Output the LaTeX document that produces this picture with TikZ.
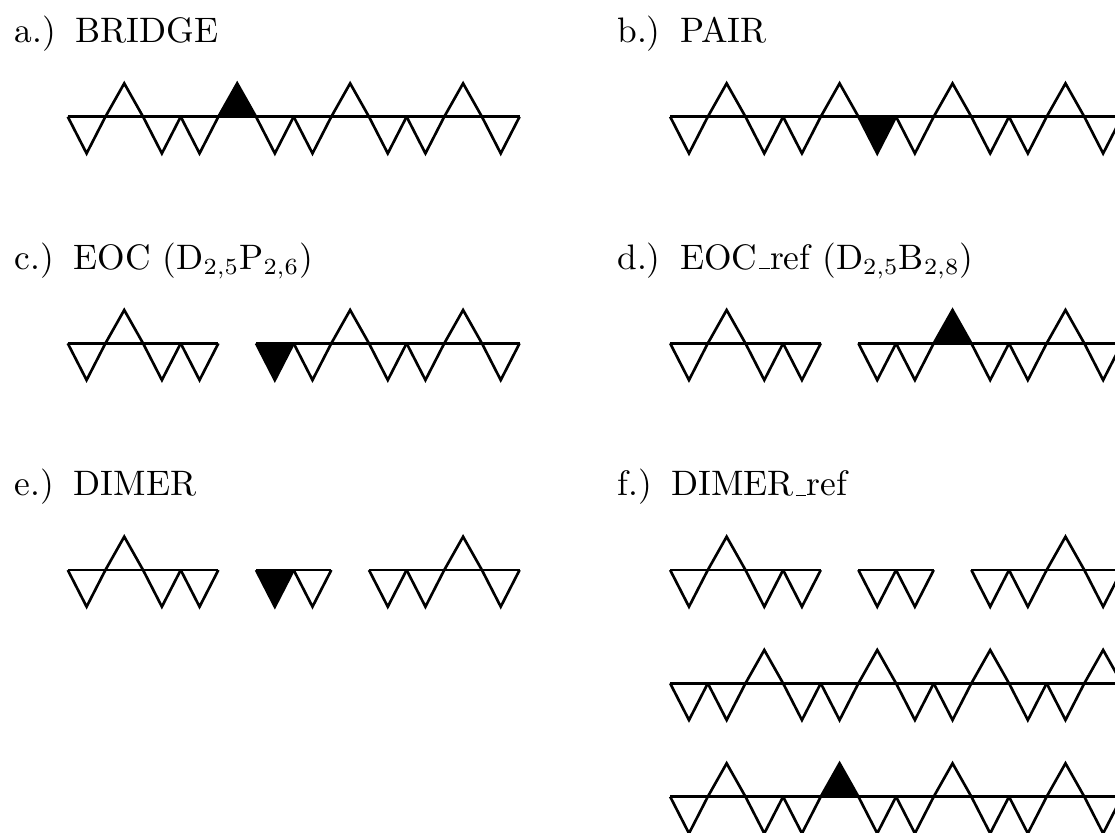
\documentclass[tikz,border=0pt]{standalone}
\usepackage{tikz}
\newcommand{\upH}{0.885}
\newcommand{\dnH}{0.975}
\newcommand{\us}{\leavevmode\kern.06em\vbox{\hrule width.3em}}
\newcommand{\gap}{\hspace{0.55em}}
\newcommand{\sawrow}[3]{%
  \foreach \kind [count=\k from 0] in {#3}
    \pic at ({#1+\k},#2) {\kind};
}
\tikzset{
  saw/.style={line width=0.8pt,line join=miter,line cap=butt},
  rowlabel/.style={anchor=base west,inner sep=0pt,font=\fontsize{10.7}{13}\selectfont},
  pics/dn/.style={code={
    \draw[saw] (0,0) -- (1,0);
    \draw[saw] (0,0) -- (0.5,-\dnH) -- (1,0);}},
  pics/up/.style={code={
    \draw[saw] (0,0) -- (1,0);
    \draw[saw] (0,0) -- (0.5,\upH) -- (1,0);}},
  pics/dnF/.style={code={
    \fill (0,0) -- (0.5,-\dnH) -- (1,0) -- cycle;
    \draw[saw] (0,0) -- (1,0);
    \draw[saw] (0,0) -- (0.5,-\dnH) -- (1,0);}},
  pics/upF/.style={code={
    \fill (0,0) -- (0.5,\upH) -- (1,0) -- cycle;
    \draw[saw] (0,0) -- (1,0);
    \draw[saw] (0,0) -- (0.5,\upH) -- (1,0);}}
}

\begin{document}
\begin{tikzpicture}[x=0.4cm,y=0.4cm]
  \useasboundingbox (0,0) rectangle (29.615,-22.125);
  \clip (0,0) rectangle (29.615,-22.125);

  \node[rowlabel] (lblA) at (0.38,-1.134) {a.)\gap BRIDGE};
  \node[rowlabel] (lblB) at (16.38,-1.134) {b.)\gap PAIR};
  \node[rowlabel] (lblC) at (0.38,-7.154) {c.)\gap EOC (D$_{2,5}$P$_{2,6}$)};
  \node[rowlabel] (lblD) at (16.38,-7.154) {d.)\gap EOC\us ref (D$_{2,5}$B$_{2,8}$)};
  \node[rowlabel] (lblE) at (0.38,-13.174) {e.)\gap DIMER};
  \node[rowlabel] (lblF) at (16.38,-13.174) {f.)\gap DIMER\us ref};

  % a.) and b.)
  \sawrow{1.8}{-3.1}{dn,up,dn,dn,upF,dn,dn,up,dn,dn,up,dn}
  \sawrow{17.8}{-3.1}{dn,up,dn,dn,up,dnF,dn,up,dn,dn,up,dn}

  % c.) and d.)
  \sawrow{1.8}{-9.12}{dn,up,dn,dn}
  \sawrow{6.8}{-9.12}{dnF,dn,up,dn,dn,up,dn}
  \sawrow{17.8}{-9.12}{dn,up,dn,dn}
  \sawrow{22.8}{-9.12}{dn,dn,upF,dn,dn,up,dn}

  % e.) and f.)
  \sawrow{1.8}{-15.14}{dn,up,dn,dn}
  \sawrow{6.8}{-15.14}{dnF,dn}
  \sawrow{9.8}{-15.14}{dn,dn,up,dn}
  \sawrow{17.8}{-15.14}{dn,up,dn,dn}
  \sawrow{22.8}{-15.14}{dn,dn}
  \sawrow{25.8}{-15.14}{dn,dn,up,dn}
  \sawrow{17.8}{-18.15}{dn,dn,up,dn,dn,up,dn,dn,up,dn,dn,up}
  \sawrow{17.8}{-21.16}{dn,up,dn,dn,upF,dn,dn,up,dn,dn,up,dn}
\end{tikzpicture}
\end{document}
